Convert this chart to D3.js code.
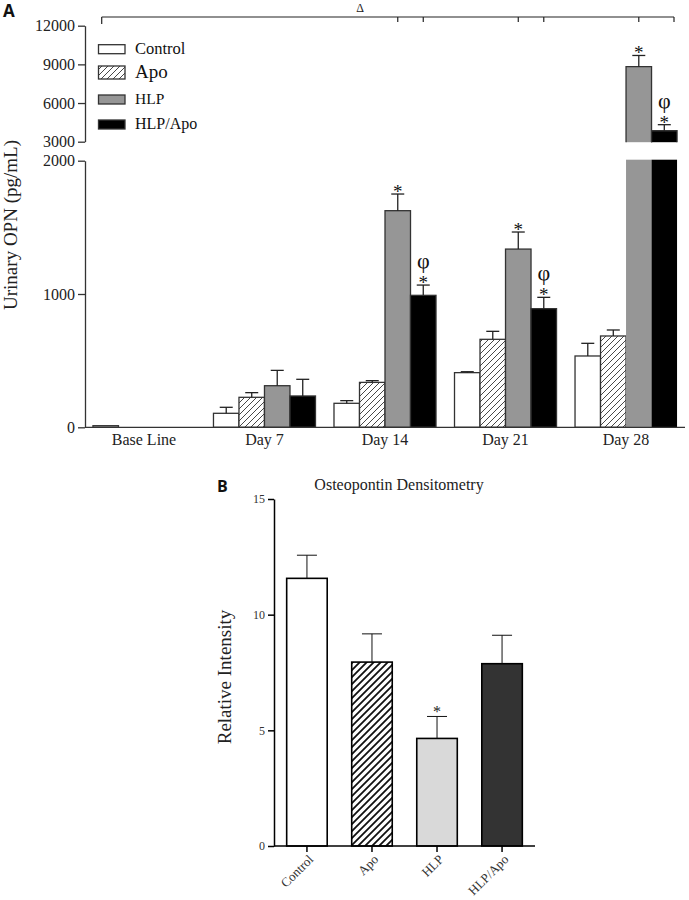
<!DOCTYPE html>
<html><head><meta charset="utf-8">
<script src="https://cdn.jsdelivr.net/npm/d3@7"></script>
<style>
body{margin:0;background:#fff;}
svg{display:block;}
</style></head>
<body>
<svg id="c" width="689" height="900" font-family="Liberation Serif, Times New Roman, serif"></svg>
<script>
// ---------- Data: panel A ----------
const daysA = ["Base Line","Day 7","Day 14","Day 21","Day 28"];
const groupsA = ["Control","Apo","HLP","HLP/Apo"];
const controlA = [12, 105, 180, 410, 535];
const apoA     = [null, 225, 337, 660, 685];
const hlpA     = [null, 312, 1625, 1337, 8820];
const hlpApoA  = [null, 235, 990, 890, 3850];
const controlErrA = [0, 45, 20, 7, 95];
const apoErrA     = [0, 35, 13, 60, 45];
const hlpErrA     = [0, 115, 125, 128, 870];
const hlpApoErrA  = [0, 125, 77, 85, 470];
const lowTicksA = [0, 1000, 2000];
const highTicksA = [3000, 6000, 9000, 12000];
// significance marks: [dayIndex, groupIndex]
const starsA = [[2,2],[2,3],[3,2],[3,3],[4,2],[4,3]];
const phiA   = [[2,3],[3,3],[4,3]];
const bracketA = [[2,2],[2,3],[3,2],[3,3],[4,2],[4,3]];

// ---------- Data: panel B ----------
const groupsB = ["Control","Apo","HLP","HLP/Apo"];
const valuesB = [11.57, 7.95, 4.65, 7.88];
const errB    = [1.0, 1.22, 0.95, 1.23];
const ticksB  = [0, 5, 10, 15];
const starsB  = [2];

const SERIF = "Liberation Serif, Times New Roman, serif";
const SANS = "Open Sans, Liberation Sans, sans-serif";
const svg = d3.select("#c");
const defs = svg.append("defs");
const pA = defs.append("pattern").attr("id","hatchA").attr("patternUnits","userSpaceOnUse")
  .attr("width",6).attr("height",6);
pA.append("rect").attr("width",6).attr("height",6).attr("fill","#fff");
pA.append("path").attr("d","M-1,7 L7,-1 M-1,1 L1,-1 M5,7 L7,5").attr("stroke","#333").attr("stroke-width",0.9);
const pB = defs.append("pattern").attr("id","hatchB").attr("patternUnits","userSpaceOnUse")
  .attr("width",7).attr("height",7);
pB.append("rect").attr("width",7).attr("height",7).attr("fill","#fff");
pB.append("path").attr("d","M-1,8 L8,-1 M-1,1 L1,-1 M6,8 L8,6").attr("stroke","#111").attr("stroke-width",1.8);

// ================= Panel A =================
const valsA = [controlA, apoA, hlpA, hlpApoA];
const errsA = [controlErrA, apoErrA, hlpErrA, hlpApoErrA];
const fillA = ["#fff","url(#hatchA)","#969696","#000"];
const x0 = d3.scaleBand().domain(daysA).range([85,685]).paddingInner(0.1535).paddingOuter(0.066);
const x1 = d3.scaleBand().domain(groupsA).range([0,x0.bandwidth()]);
const yLow = d3.scaleLinear().domain([0,2000]).range([427.3,160.7]);
const yHigh = d3.scaleLinear().domain([3000,12000]).range([141.7,25.7]);
const yA = v => v <= 2000 ? yLow(v) : yHigh(v);

const gA = svg.append("g");
daysA.forEach((d,di)=>{
  groupsA.forEach((g,gi)=>{
    const v = valsA[gi][di];
    if(v==null) return;
    const bx = x0(d)+x1(g), bw = x1.bandwidth();
    const stroke = "#333";
    if(v<=2000){
      gA.append("rect").attr("x",bx).attr("y",yLow(v)).attr("width",bw).attr("height",yLow(0)-yLow(v))
        .attr("fill",fillA[gi]).attr("stroke",stroke).attr("stroke-width",1.3);
    } else {
      gA.append("rect").attr("x",bx).attr("y",yLow(2000)-1).attr("width",bw).attr("height",yLow(0)-yLow(2000)+1)
        .attr("fill",fillA[gi]).attr("stroke","none");
      gA.append("rect").attr("x",bx).attr("y",yHigh(v)).attr("width",bw).attr("height",yHigh(3000)-yHigh(v)+0.5)
        .attr("fill",fillA[gi]).attr("stroke","none");
      gA.append("path").attr("d",`M${bx},${yHigh(3000)+0.5}V${yHigh(v)}H${bx+bw}V${yHigh(3000)+0.5}`)
        .attr("fill","none").attr("stroke",stroke).attr("stroke-width",1.3);
    }
    const e = errsA[gi][di];
    if(e>0){
      const cx = bx+bw/2, top = yA(v+e);
      gA.append("line").attr("x1",cx).attr("x2",cx).attr("y1",yA(v)).attr("y2",top).attr("stroke","#222").attr("stroke-width",1.3);
      gA.append("line").attr("x1",cx-6.5).attr("x2",cx+6.5).attr("y1",top).attr("y2",top).attr("stroke","#222").attr("stroke-width",1.3);
    }
  });
});
starsA.forEach(([di,gi])=>{
  const v = valsA[gi][di]+errsA[gi][di];
  gA.append("text").attr("x",x0(daysA[di])+x1(groupsA[gi])+x1.bandwidth()/2).attr("y",yA(v)+4)
    .attr("text-anchor","middle").attr("font-size",19).attr("fill","#111").text("*");
});
phiA.forEach(([di,gi])=>{
  const v = valsA[gi][di]+errsA[gi][di];
  gA.append("text").attr("x",x0(daysA[di])+x1(groupsA[gi])+x1.bandwidth()/2).attr("y",yA(v)-17)
    .attr("text-anchor","middle").attr("font-size",22).attr("fill","#111").text("φ");
});

// axes A
const axLow = svg.append("g").attr("transform","translate(85,0)")
  .call(d3.axisLeft(yLow).tickValues(lowTicksA).tickSize(7).tickSizeOuter(0).tickFormat(d3.format("d")));
const axHigh = svg.append("g").attr("transform","translate(85,0)")
  .call(d3.axisLeft(yHigh).tickValues(highTicksA).tickSize(7).tickSizeOuter(0).tickFormat(d3.format("d")));
[axLow,axHigh].forEach(a=>{
  a.attr("font-family",SERIF);
  a.selectAll("path,line").attr("stroke","#333").attr("stroke-width",1.3);
  a.selectAll("text").attr("font-size",16).attr("fill","#222");
});
const axX = svg.append("g").attr("transform","translate(0,427.3)")
  .call(d3.axisBottom(x0).tickSize(0).tickSizeOuter(0));
axX.attr("font-family",SERIF);
axX.select("path").attr("d","M85,0H685").attr("stroke","#333").attr("stroke-width",1.3);
axX.selectAll("text").attr("font-size",16).attr("fill","#222").attr("dy","0.9em");

svg.append("text").attr("transform","translate(17,225) rotate(-90)").attr("text-anchor","middle")
  .attr("font-size",19).attr("fill","#222").text("Urinary  OPN (pg/mL)");
svg.append("text").attr("x",3).attr("y",17).attr("font-family",SANS).attr("font-weight","bold")
  .attr("font-size",17).attr("fill","#111").text("A");

// bracket
const bx0 = x0(daysA[0])+x1(groupsA[0])+x1.bandwidth()/2 - 4;
const bxEnd = 674;
const gB = svg.append("g").attr("stroke","#222").attr("stroke-width",1.2);
gB.append("line").attr("x1",bx0).attr("x2",bxEnd).attr("y1",17).attr("y2",17);
gB.append("line").attr("x1",bx0).attr("x2",bx0).attr("y1",17).attr("y2",24);
bracketA.forEach(([di,gi])=>{
  let cx = x0(daysA[di])+x1(groupsA[gi])+x1.bandwidth()/2;
  if(di===4 && gi===3) cx = bxEnd;
  gB.append("line").attr("x1",cx).attr("x2",cx).attr("y1",17).attr("y2",22);
});
svg.append("text").attr("x",360).attr("y",12).attr("text-anchor","middle").attr("font-size",12).attr("fill","#222").text("Δ");

// legend A
const legSpecs = [
  {y:44.7,h:9,fs:16.5,ty:54},
  {y:66,h:13,fs:19,ty:78},
  {y:95,h:9,fs:15.5,ty:104},
  {y:120,h:9,fs:16,ty:129}
];
groupsA.forEach((g,i)=>{
  const s = legSpecs[i];
  svg.append("rect").attr("x",98.5).attr("y",s.y).attr("width",26.5).attr("height",s.h)
    .attr("fill",fillA[i]).attr("stroke","#333").attr("stroke-width",1.3);
  svg.append("text").attr("x",135).attr("y",s.ty).attr("font-size",s.fs).attr("fill","#111").text(g);
});

// ================= Panel B =================
const fillB = ["#fff","url(#hatchB)","#d9d9d9","#333"];
const xB = d3.scaleBand().domain(groupsB).range([274,535]).paddingInner(0.377).paddingOuter(0.195);
const yB = d3.scaleLinear().domain([0,15]).range([846,499]);
const gBB = svg.append("g");
groupsB.forEach((g,i)=>{
  const v = valuesB[i], bx = xB(g), bw = xB.bandwidth();
  gBB.append("rect").attr("x",bx).attr("y",yB(v)).attr("width",bw).attr("height",yB(0)-yB(v))
    .attr("fill",fillB[i]).attr("stroke","#000").attr("stroke-width",1.6);
  const cx = bx+bw/2, top = yB(v+errB[i]);
  gBB.append("line").attr("x1",cx).attr("x2",cx).attr("y1",yB(v)).attr("y2",top).attr("stroke","#111").attr("stroke-width",1);
  gBB.append("line").attr("x1",cx-10).attr("x2",cx+10).attr("y1",top).attr("y2",top).attr("stroke","#111").attr("stroke-width",1);
});
starsB.forEach(i=>{
  const g = groupsB[i];
  gBB.append("text").attr("x",xB(g)+xB.bandwidth()/2).attr("y",yB(valuesB[i]+errB[i])+1)
    .attr("text-anchor","middle").attr("font-size",16).attr("fill","#222").text("*");
});
const axYB = svg.append("g").attr("transform","translate(274,0)")
  .call(d3.axisLeft(yB).tickValues(ticksB).tickSize(6).tickSizeOuter(0));
axYB.attr("font-family",SERIF);
axYB.selectAll("path,line").attr("stroke","#000").attr("stroke-width",1.5);
axYB.selectAll("text").attr("font-size",12).attr("fill","#333");
const axXB = svg.append("g").attr("transform","translate(0,846)")
  .call(d3.axisBottom(xB).tickSize(6).tickSizeOuter(0));
axXB.attr("font-family",SERIF);
axXB.select("path").attr("d","M274,0H535").attr("stroke","#000").attr("stroke-width",1.5);
axXB.selectAll("line").attr("stroke","#000").attr("stroke-width",1.5);
axXB.selectAll("text").attr("font-size",13).attr("fill","#333")
  .attr("text-anchor","end").attr("dy","0.35em").attr("y",0).attr("x",0).attr("transform","translate(4,11) rotate(-45)");

svg.append("text").attr("transform","translate(231,677) rotate(-90)").attr("text-anchor","middle")
  .attr("font-size",19).attr("fill","#222").text("Relative Intensity");
svg.append("text").attr("x",399).attr("y",490).attr("text-anchor","middle")
  .attr("font-size",16).attr("fill","#222").text("Osteopontin Densitometry");
svg.append("text").attr("x",217).attr("y",492).attr("font-family",SANS).attr("font-weight","bold")
  .attr("font-size",16).attr("fill","#111").text("B");
</script>
</body></html>
